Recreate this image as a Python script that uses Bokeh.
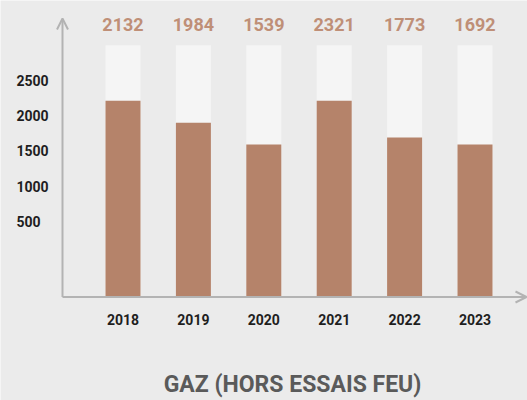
from bokeh.plotting import figure
from bokeh.models import Range1d, Arrow, OpenHead, ColumnDataSource
from bokeh.embed import file_html
from bokeh.resources import INLINE
from bokeh.core.properties import value

# ---- data ----
years = [2018, 2019, 2020, 2021, 2022, 2023]
value_labels = ["2132", "1984", "1539", "2321", "1773", "1692"]
bar_values = [2210, 1900, 1590, 2210, 1690, 1590]
track_max = 3000
tick_values = [500, 1000, 1500, 2000, 2500]
tick_labels = ["500", "1000", "1500", "2000", "2500"]
chart_title = "GAZ (HORS ESSAIS FEU)"

# ---- layout ----
W, H = 527, 400
PX_PER_YEAR = 70.4
PX_PER_UNIT = 35.2 / 500.0
xs = years[0] - 122.5 / PX_PER_YEAR
xe = xs + W / PX_PER_YEAR
ye = 255.9 / PX_PER_UNIT
ys = ye - H / PX_PER_UNIT

def X(px):
    return xs + px / PX_PER_YEAR

def Y(py):
    return ye - py / PX_PER_UNIT

BG = "#ebebeb"
BROWN = "#b5836a"
TRACK = "#f5f5f5"
LABEL_BROWN = "#bf8f77"
AXIS = "#b3b3b3"
FONT = "Roboto"

p = figure(width=W, height=H, output_backend="svg", toolbar_location=None,
           x_range=Range1d(xs, xe), y_range=Range1d(ys, ye),
           x_axis_location=None, y_axis_location=None,
           min_border=0, outline_line_color=None,
           background_fill_color=BG, border_fill_color=BG)
p.grid.visible = False

baseline = Y(296.5)
bar_w = 35 / PX_PER_YEAR

src = ColumnDataSource(dict(
    x=years, top=bar_values, track=[track_max] * len(years),
    lab=value_labels, year_lab=[str(y) for y in years],
))

p.vbar(x="x", top="track", bottom=baseline, width=bar_w, source=src,
       fill_color=TRACK, line_color=None)
p.vbar(x="x", top="top", bottom=baseline, width=bar_w, source=src,
       fill_color=BROWN, line_color=None)

# value labels above
p.text(x="x", y=Y(24), text="lab", source=src, text_align="center",
       text_baseline="middle", text_color=LABEL_BROWN,
       text_font=value(FONT), text_font_size="18px", text_font_style="bold")

# year labels
p.text(x="x", y=Y(319), text="year_lab", source=src, text_align="center",
       text_baseline="middle", text_color="#1e1e1e",
       text_font=value(FONT), text_font_size="14px", text_font_style="bold")

# y tick labels
tsrc = ColumnDataSource(dict(y=tick_values, t=tick_labels))
p.text(x=X(16), y="y", text="t", source=tsrc, text_align="left",
       text_baseline="middle", text_color="#1e1e1e",
       text_font=value(FONT), text_font_size="14px", text_font_style="bold")

# axes with arrows
p.add_layout(Arrow(end=OpenHead(size=11, line_color=AXIS, line_width=2),
                   x_start=X(62), y_start=baseline, x_end=X(62), y_end=Y(18),
                   line_color=AXIS, line_width=2))
p.add_layout(Arrow(end=OpenHead(size=11, line_color=AXIS, line_width=2),
                   x_start=X(62), y_start=baseline, x_end=X(526), y_end=baseline,
                   line_color=AXIS, line_width=2))

# title
p.text(x=[X(292)], y=[Y(384)], text=[chart_title], text_align="center",
       text_baseline="middle", text_color="#5a5a5a",
       text_font=value(FONT), text_font_size="23px", text_font_style="bold")

html = file_html(p, INLINE)
html = html.replace("<body>", '<body style="background-color:%s;">' % BG, 1)
open("out.html", "w").write(html)
